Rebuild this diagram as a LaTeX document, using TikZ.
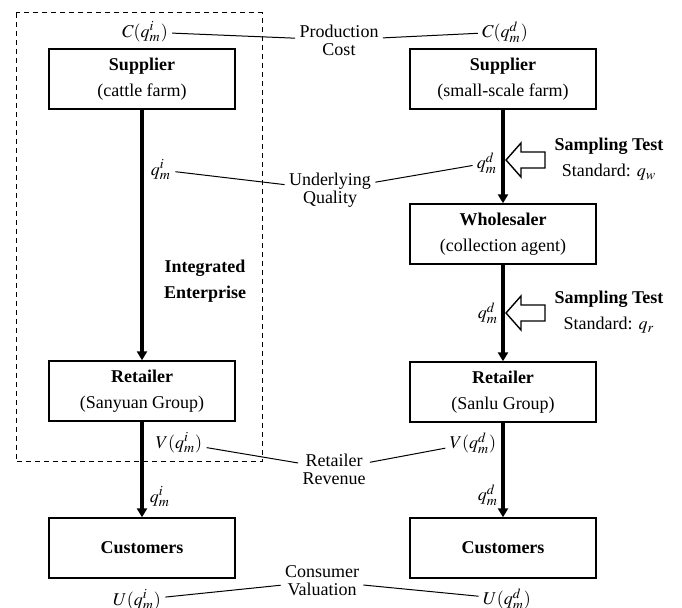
\documentclass[tikz,border=0pt]{standalone}
\usepackage{mathptmx}
\usepackage[no-math]{fontspec}
\setmainfont{Liberation Serif}
\usetikzlibrary{arrows.meta}

\begin{document}
\begin{tikzpicture}[x=0.5pt, y=-0.5pt, >={Triangle[width=5pt,length=4.5pt]},
  box/.style={draw, line width=0.7pt, minimum width=93pt, minimum height=30pt,
    align=center, font=\fontsize{9}{13}\selectfont},
  flow/.style={->, line width=1.6pt},
  tag/.style={inner sep=2pt, align=center, font=\fontsize{9}{9}\selectfont},
  note/.style={inner sep=2pt, align=center, font=\fontsize{9}{13}\selectfont},
  link/.style={line width=0.5pt},
  hollow/.style={draw, line width=0.7pt, fill=white},
  firm/.style={draw, dash pattern=on 2.5pt off 2pt, line width=0.5pt}]

\useasboundingbox (0,0) rectangle (682,608);

% integrated enterprise frame
\draw[firm] (16,13) rectangle (262,462);

% left chain
\node [box] (sup-i) at (142,79) {\textbf{Supplier}\\(cattle farm)};
\node [box] (ret-i) at (142,391) {\textbf{Retailer}\\(Sanyuan Group)};
\node [box] (cus-i) at (142,548) {\textbf{Customers}};

% right chain
\node [box] (sup-d) at (503,79) {\textbf{Supplier}\\(small-scale farm)};
\node [box] (whl-d) at (503,234) {\textbf{Wholesaler}\\(collection agent)};
\node [box] (ret-d) at (503,392) {\textbf{Retailer}\\(Sanlu Group)};
\node [box] (cus-d) at (503,548) {\textbf{Customers}};

\draw [flow] (sup-i) -- (ret-i);
\draw [flow] (ret-i) -- (cus-i);
\draw [flow] (sup-d) -- (whl-d);
\draw [flow] (whl-d) -- (ret-d);
\draw [flow] (ret-d) -- (cus-d);

% quantities beside the chains
\node [tag] (ci) at (145,32) {$C(q_m^i)$};
\node [tag] (cd) at (505,32) {$C(q_m^d)$};
\node [tag] (qi-1) at (161,170) {$q_m^i$};
\node [tag] (qd-1) at (487,163) {$q_m^d$};
\node [tag] (qd-2) at (488,313) {$q_m^d$};
\node [tag] (vi) at (179,443) {$V(q_m^i)$};
\node [tag] (vd) at (473,443) {$V(q_m^d)$};
\node [tag] (qi-2) at (160,497) {$q_m^i$};
\node [tag] (qd-3) at (488,495) {$q_m^d$};
\node [tag] (ui) at (137,600) {$U(q_m^i)$};
\node [tag] (ud) at (507,599) {$U(q_m^d)$};

% middle captions
\node [tag] (pc) at (339,40) {Production\\Cost};
\node [tag] (uq) at (330,190) {Underlying\\Quality};
\node [tag] (rr) at (334,469) {Retailer\\Revenue};
\node [tag] (cv) at (322,581) {Consumer\\Valuation};

\foreach \a/\b in {ci/pc, pc/cd, qi-1/uq, uq/qd-1, vi/rr, rr/vd, ui/cv, cv/ud}
  \draw [link] (\a) -- (\b);

\node [note, font=\fontsize{9}{13}\selectfont\bfseries] (ie) at (205,281) {Integrated\\Enterprise};

% sampling tests
\foreach \n/\y/\s in {1/160/w, 2/313/r} {
  \coordinate (tip-\n) at (506,\y);
  \draw [hollow] (tip-\n) -- ++(15,-17) -- ++(0,9) -- ++(24,0) -- ++(0,16)
    -- ++(-24,0) -- ++(0,9) -- cycle;
  \node [note] (test-\n) at (609,\y-1) {\textbf{Sampling Test}\\Standard: $q_\s$};
}
\end{tikzpicture}
\end{document}
